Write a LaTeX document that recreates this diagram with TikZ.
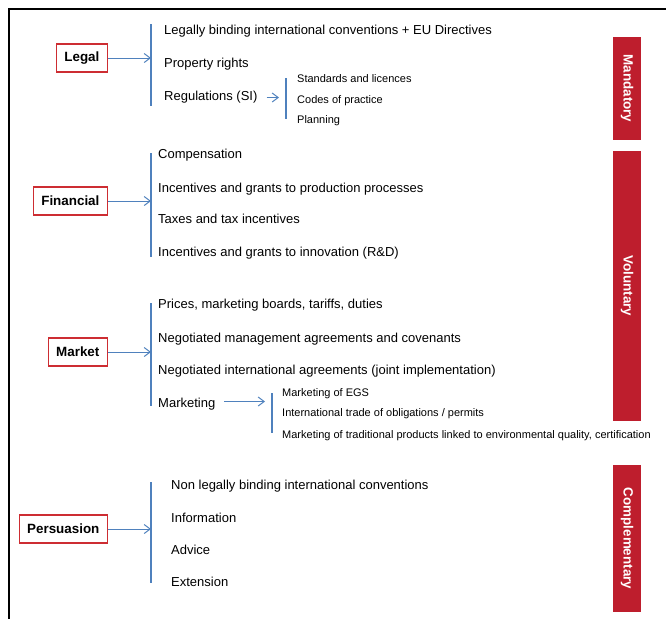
\documentclass[tikz,border=0pt]{standalone}
\usepackage{fontspec}
\setmainfont{Liberation Sans}
\usetikzlibrary{arrows.meta}
\usetikzlibrary{calc}
\usetikzlibrary{positioning}
\definecolor{boxred}{RGB}{205,45,50}
\definecolor{barred}{RGB}{190,30,45}
\definecolor{linkblue}{RGB}{79,129,189}

\begin{document}
\begin{tikzpicture}[x=1pt,y=-1pt,
    cat/.style={draw=boxred, line width=1.2pt, anchor=east, minimum height=28pt, inner xsep=8pt,
        font=\bfseries\fontsize{13.4}{16}\selectfont},
    item/.style={anchor=west, inner sep=0pt, text height=9.5pt, text depth=2.8pt, yshift=-1.5pt,
        font=\fontsize{13}{15}\selectfont},
    subitem/.style={anchor=west, inner sep=0pt, text height=8pt, text depth=2.4pt, yshift=-1.5pt,
        font=\fontsize{11}{13}\selectfont},
    band/.style={fill=barred, text=white, rotate=-90, minimum height=28pt, inner sep=0pt,
        font=\bfseries\fontsize{13.4}{16}\selectfont},
    brace/.style={draw=linkblue, line width=1.1pt},
    flow/.style={draw=linkblue, line width=1pt, -{Straight Barb[length=6pt,width=9pt]}}]
        \useasboundingbox (0,0) rectangle (666,619);
        \draw[line width=1.3pt] (666,9) -- (9,9) -- (9,619);

        \node[cat] (legal) at (108,58) {Legal};
        \node[cat] (fin) at (108,201) {Financial};
        \node[cat] (market) at (108,352) {Market};
        \node[cat] (pers) at (108,529) {Persuasion};

        \node[band, minimum width=103pt] (mand) at (627,88.5) {Mandatory};
        \node[band, minimum width=270pt] (vol) at (627,286) {Voluntary};
        \node[band, minimum width=147pt] (compl) at (627,538.5) {Complementary};

        \coordinate (legal-t) at (151,24);
        \coordinate (legal-b) at (151,106);
        \coordinate (fin-t) at (151,153);
        \coordinate (fin-b) at (151,257);
        \coordinate (market-t) at (151,303);
        \coordinate (market-b) at (151,406);
        \coordinate (pers-t) at (151,482);
        \coordinate (pers-b) at (151,583);

        \node[item] (l1) at (164,30) {Legally binding international conventions + EU Directives};
        \node[item] (l2) at (164,63) {Property rights};
        \node[item] (l3) at (164,96) {Regulations (SI)};
        \coordinate (reg-t) at (286,78);
        \coordinate (reg-b) at (286,119);
        \node[subitem] (r1) at (297,78) {Standards and licences};
        \node[subitem] (r2) at (297,99) {Codes of practice};
        \node[subitem] (r3) at (297,119) {Planning};

        \node[item] (f1) at (158,154) {Compensation};
        \node[item] (f2) at (158,188) {Incentives and grants to production processes};
        \node[item] (f3) at (158,219) {Taxes and tax incentives};
        \node[item] (f4) at (158,252) {Incentives and grants to innovation (R\&D)};

        \node[item] (m1) at (158,304) {Prices, marketing boards, tariffs, duties};
        \node[item] (m2) at (158,338) {Negotiated management agreements and covenants};
        \node[item] (m3) at (158,370) {Negotiated international agreements (joint implementation)};
        \node[item] (m4) at (158,403) {Marketing};
        \coordinate (mkt-t) at (272,393);
        \coordinate (mkt-b) at (272,433);
        \node[subitem] (k1) at (282,392) {Marketing of EGS};
        \node[subitem] (k2) at (282,412) {International trade of obligations  / permits};
        \node[subitem] (k3) at (282,434) {Marketing of traditional products linked to environmental quality, certification};

        \node[item] (p1) at (171,485) {Non legally binding international conventions};
        \node[item] (p2) at (171,518) {Information};
        \node[item] (p3) at (171,550) {Advice};
        \node[item] (p4) at (171,582) {Extension};

        \draw[brace] (legal-t) -- (legal-b);
        \draw[brace] (fin-t) -- (fin-b);
        \draw[brace] (market-t) -- (market-b);
        \draw[brace] (pers-t) -- (pers-b);
        \draw[brace] (reg-t) -- (reg-b);
        \draw[brace] (mkt-t) -- (mkt-b);

        \draw[flow] (legal.east) -- (legal.east -| legal-t);
        \draw[flow] (fin.east) -- (fin.east -| fin-t);
        \draw[flow] (market.east) -- (market.east -| market-t);
        \draw[flow] (pers.east) -- (pers.east -| pers-t);
        \draw[flow, shorten <=9pt, shorten >=7pt] (l3.east) -- (l3.east -| reg-t);
        \draw[flow, shorten <=9pt, shorten >=7pt] ([yshift=3pt]m4.east) -- ([yshift=3pt]m4.east -| mkt-t);
    \end{tikzpicture}
\end{document}
